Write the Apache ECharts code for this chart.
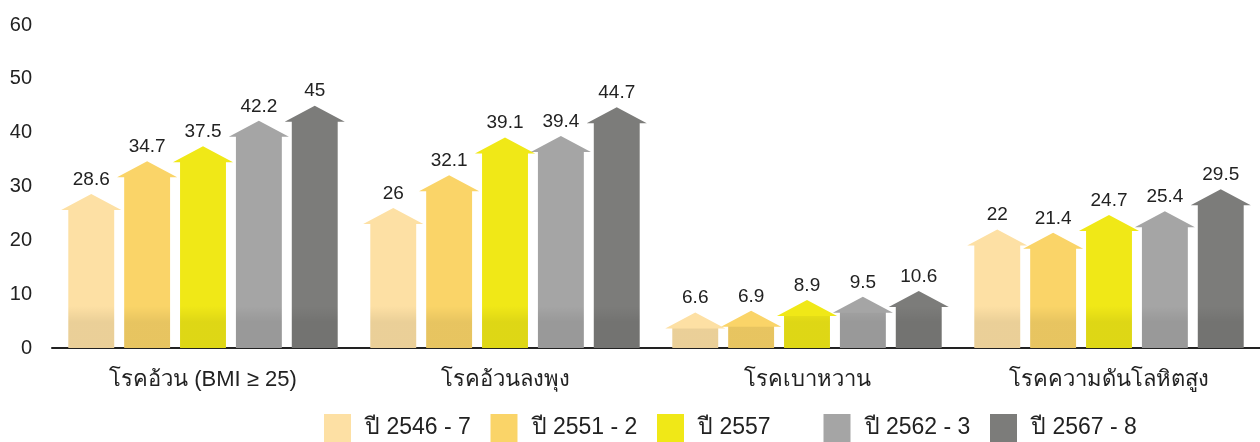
<!DOCTYPE html>
<html>
<head>
<meta charset="utf-8">
<script src="https://cdn.jsdelivr.net/npm/echarts@6/dist/echarts.min.js"></script>
<style>
  html, body { margin: 0; padding: 0; background: #fff; }
  #chart { width: 1260px; height: 442px; }
</style>
</head>
<body>
<div id="chart"></div>
<script>
const categories = ['โรคอ้วน (BMI ≥ 25)', 'โรคอ้วนลงพุง', 'โรคเบาหวาน', 'โรคความดันโลหิตสูง']
const seriesNames = ['ปี 2546 - 7', 'ปี 2551 - 2', 'ปี 2557', 'ปี 2562 - 3', 'ปี 2567 - 8']
const y2546 = [28.6, 26, 6.6, 22]
const y2551 = [34.7, 32.1, 6.9, 21.4]
const y2557 = [37.5, 39.1, 8.9, 24.7]
const y2562 = [42.2, 39.4, 9.5, 25.4]
const y2567 = [45, 44.7, 10.6, 29.5]
const colors = ['#fde0a4', '#fad468', '#f0e817', '#a5a5a5', '#7c7c7a']

const allValues = [y2546, y2551, y2557, y2562, y2567]
const FONT = '"Liberation Sans", Arial, "Noto Sans", sans-serif'

function renderArrow(params, api) {
  const cat = api.value(0)
  const val = api.value(1)
  const top = api.coord([cat, val])
  const base = api.coord([cat, 0])[1]
  const band = api.size([1, 0])[0]
  const step = band * 0.185
  const cx = top[0] + (params.seriesIndex - 2) * step
  const bodyW = band * 0.152
  const headW = band * 0.199
  const headH = 16
  const neck = top[1] + headH
  const color = colors[params.seriesIndex]
  const shadeTop = Math.max(neck, base - 42)
  return {
    type: 'group',
    children: [
      {
        type: 'polygon',
        shape: {
          points: [
            [cx - bodyW / 2, base],
            [cx - bodyW / 2, neck],
            [cx - headW / 2, neck],
            [cx, top[1]],
            [cx + headW / 2, neck],
            [cx + bodyW / 2, neck],
            [cx + bodyW / 2, base]
          ]
        },
        style: { fill: color }
      },
      {
        type: 'rect',
        shape: { x: cx - bodyW / 2, y: shadeTop, width: bodyW, height: base - shadeTop },
        style: {
          fill: new echarts.graphic.LinearGradient(0, base - 42, 0, base - 26, [
            { offset: 0, color: 'rgba(0,0,0,0)' },
            { offset: 1, color: 'rgba(0,0,0,0.075)' }
          ], true)
        }
      },
      {
        type: 'text',
        x: cx,
        y: top[1] - 5,
        style: {
          text: String(val),
          fill: '#222',
          font: '19px ' + FONT,
          align: 'center',
          verticalAlign: 'bottom'
        }
      }
    ]
  }
}

// one legend block per series so the items sit at even steps like the original
const legends = seriesNames.map((name, i) => ({
  top: 414,
  left: 324 + i * 166.5,
  padding: 0,
  icon: 'rect',
  itemWidth: 27,
  itemHeight: 28,
  data: [name],
  textStyle: { fontSize: 23, color: '#222', fontFamily: FONT, padding: [0, 0, 0, 9] }
}))

const chart = echarts.init(document.getElementById('chart'))
chart.setOption({
  animation: false,
  legend: legends,
  grid: { left: 52, right: 0, top: 25, bottom: 94 },
  xAxis: {
    type: 'category',
    data: categories,
    axisLine: { lineStyle: { color: '#222', width: 2 } },
    axisTick: { show: false },
    axisLabel: { fontSize: 22, color: '#222', fontFamily: FONT, margin: 21 }
  },
  yAxis: {
    type: 'value',
    min: 0,
    max: 60,
    interval: 10,
    splitLine: { show: false },
    axisLabel: { fontSize: 20, color: '#222', fontFamily: FONT, margin: 20 }
  },
  series: seriesNames.map((name, i) => ({
    name,
    type: 'custom',
    itemStyle: { color: colors[i] },
    renderItem: renderArrow,
    encode: { x: 0, y: 1 },
    data: allValues[i].map((v, c) => [c, v])
  }))
})
</script>
</body>
</html>
